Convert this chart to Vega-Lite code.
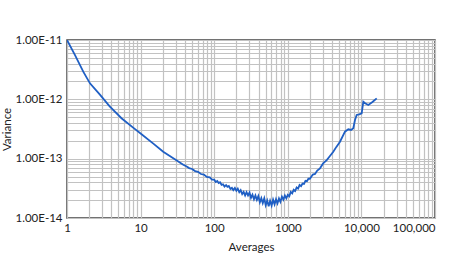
{
  "$schema": "https://vega.github.io/schema/vega-lite/v6.json",
  "width": 368,
  "height": 178,
  "autosize": "none",
  "padding": {"left": 67, "top": 40, "right": 21, "bottom": 49},
  "background": "white",
  "config": {
    "view": {"stroke": "#444444", "strokeWidth": 1.5},
    "font": "Lato",
    "axis": {
      "domain": false,
      "ticks": false,
      "grid": true,
      "gridColor": "#c2c2c2",
      "gridWidth": 1.2,
      "labelFont": "Lato",
      "labelFontSize": 11.5,
      "labelColor": "#222222",
      "titleFont": "Lato",
      "titleFontSize": 11.5,
      "titleFontWeight": "normal",
      "titleColor": "#222222",
      "labelOverlap": false
    }
  },
  "data": {
    "values": [
      {"averages": 1, "variance": 1.0e-11},
      {"averages": 1.28, "variance": 5.6e-12},
      {"averages": 1.67, "variance": 2.9e-12},
      {"averages": 2.05, "variance": 1.86e-12},
      {"averages": 2.8, "variance": 1.2e-12},
      {"averages": 3.8, "variance": 7.6e-13},
      {"averages": 5.5, "variance": 4.8e-13},
      {"averages": 8, "variance": 3.3e-13},
      {"averages": 10, "variance": 2.65e-13},
      {"averages": 14.9, "variance": 1.79e-13},
      {"averages": 20.3, "variance": 1.31e-13},
      {"averages": 27.8, "variance": 1.02e-13},
      {"averages": 38, "variance": 7.9e-14},
      {"averages": 41.7, "variance": 7.46e-14},
      {"averages": 45.7, "variance": 6.94e-14},
      {"averages": 50.1, "variance": 6.70e-14},
      {"averages": 55, "variance": 6.18e-14},
      {"averages": 60.3, "variance": 6.01e-14},
      {"averages": 66.1, "variance": 5.51e-14},
      {"averages": 72.4, "variance": 5.40e-14},
      {"averages": 79.4, "variance": 4.94e-14},
      {"averages": 87.1, "variance": 4.85e-14},
      {"averages": 93.3, "variance": 4.44e-14},
      {"averages": 100, "variance": 4.42e-14},
      {"averages": 105, "variance": 4.03e-14},
      {"averages": 110, "variance": 4.19e-14},
      {"averages": 115, "variance": 3.89e-14},
      {"averages": 120, "variance": 4.01e-14},
      {"averages": 126, "variance": 3.61e-14},
      {"averages": 132, "variance": 3.70e-14},
      {"averages": 138, "variance": 3.39e-14},
      {"averages": 145, "variance": 3.59e-14},
      {"averages": 151, "variance": 3.35e-14},
      {"averages": 158, "variance": 3.47e-14},
      {"averages": 166, "variance": 3.10e-14},
      {"averages": 174, "variance": 3.24e-14},
      {"averages": 182, "variance": 2.95e-14},
      {"averages": 191, "variance": 3.20e-14},
      {"averages": 200, "variance": 2.88e-14},
      {"averages": 209, "variance": 3.13e-14},
      {"averages": 219, "variance": 2.72e-14},
      {"averages": 229, "variance": 2.95e-14},
      {"averages": 240, "variance": 2.54e-14},
      {"averages": 251, "variance": 2.75e-14},
      {"averages": 263, "variance": 2.40e-14},
      {"averages": 275, "variance": 2.72e-14},
      {"averages": 288, "variance": 2.40e-14},
      {"averages": 302, "variance": 2.69e-14},
      {"averages": 316, "variance": 2.19e-14},
      {"averages": 331, "variance": 2.48e-14},
      {"averages": 347, "variance": 2.07e-14},
      {"averages": 363, "variance": 2.40e-14},
      {"averages": 380, "variance": 2.02e-14},
      {"averages": 398, "variance": 2.34e-14},
      {"averages": 417, "variance": 1.84e-14},
      {"averages": 437, "variance": 2.16e-14},
      {"averages": 457, "variance": 1.78e-14},
      {"averages": 479, "variance": 2.14e-14},
      {"averages": 501, "variance": 1.64e-14},
      {"averages": 525, "variance": 1.97e-14},
      {"averages": 550, "variance": 1.57e-14},
      {"averages": 575, "variance": 1.95e-14},
      {"averages": 603, "variance": 1.62e-14},
      {"averages": 631, "variance": 2.04e-14},
      {"averages": 661, "variance": 1.70e-14},
      {"averages": 692, "variance": 2.07e-14},
      {"averages": 724, "variance": 1.76e-14},
      {"averages": 759, "variance": 2.14e-14},
      {"averages": 794, "variance": 1.88e-14},
      {"averages": 832, "variance": 2.29e-14},
      {"averages": 871, "variance": 2.04e-14},
      {"averages": 912, "variance": 2.40e-14},
      {"averages": 955, "variance": 2.14e-14},
      {"averages": 1000, "variance": 2.45e-14},
      {"averages": 1047, "variance": 2.32e-14},
      {"averages": 1096, "variance": 2.75e-14},
      {"averages": 1148, "variance": 2.60e-14},
      {"averages": 1202, "variance": 2.99e-14},
      {"averages": 1259, "variance": 2.85e-14},
      {"averages": 1318, "variance": 3.27e-14},
      {"averages": 1380, "variance": 3.13e-14},
      {"averages": 1445, "variance": 3.59e-14},
      {"averages": 1514, "variance": 3.43e-14},
      {"averages": 1585, "variance": 3.82e-14},
      {"averages": 1660, "variance": 3.76e-14},
      {"averages": 1738, "variance": 4.22e-14},
      {"averages": 1820, "variance": 4.17e-14},
      {"averages": 1905, "variance": 4.59e-14},
      {"averages": 1995, "variance": 4.59e-14},
      {"averages": 2188, "variance": 5.40e-14},
      {"averages": 2344, "variance": 5.53e-14},
      {"averages": 2512, "variance": 6.31e-14},
      {"averages": 2738, "variance": 6.87e-14},
      {"averages": 3020, "variance": 8.32e-14},
      {"averages": 3381, "variance": 9.48e-14},
      {"averages": 3715, "variance": 1.10e-13},
      {"averages": 4150, "variance": 1.31e-13},
      {"averages": 4571, "variance": 1.58e-13},
      {"averages": 5117, "variance": 1.93e-13},
      {"averages": 5984, "variance": 2.85e-13},
      {"averages": 6637, "variance": 3.13e-13},
      {"averages": 7244, "variance": 3.05e-13},
      {"averages": 7762, "variance": 3.25e-13},
      {"averages": 8185, "variance": 4.49e-13},
      {"averages": 8630, "variance": 5.45e-13},
      {"averages": 9333, "variance": 5.60e-13},
      {"averages": 10090, "variance": 5.82e-13},
      {"averages": 10620, "variance": 9.12e-13},
      {"averages": 11220, "variance": 8.6e-13},
      {"averages": 12420, "variance": 8.01e-13},
      {"averages": 14130, "variance": 9.0e-13},
      {"averages": 16140, "variance": 1.04e-12}
    ]
  },
  "mark": {"type": "line", "color": "#1f5fc4", "strokeWidth": 1.8, "clip": true},
  "encoding": {
    "x": {
      "field": "averages",
      "type": "quantitative",
      "title": "Averages",
      "scale": {"type": "log", "domain": [1, 100000], "nice": false},
      "axis": {
        "values": [1,2,3,4,5,6,7,8,9,10,20,30,40,50,60,70,80,90,100,200,300,400,500,600,700,800,900,1000,2000,3000,4000,5000,6000,7000,8000,9000,10000,20000,30000,40000,50000,60000,70000,80000,90000,100000],
        "labelExpr": "abs(log(datum.value)/LN10 - round(log(datum.value)/LN10)) > 0.001 ? '' : (datum.value >= 10000 ? format(datum.value, ',') : format(datum.value, 'd'))",
        "labelAlign": {"condition": {"test": "datum.value >= 100000", "value": "right"}, "value": "center"},
        "labelPadding": 4,
        "titlePadding": 8
      }
    },
    "y": {
      "field": "variance",
      "type": "quantitative",
      "title": "Variance",
      "scale": {"type": "log", "domain": [1e-14, 1e-11], "nice": false},
      "axis": {
        "values": [1e-14,2e-14,3e-14,4e-14,5e-14,6e-14,7e-14,8e-14,9e-14,1e-13,2e-13,3e-13,4e-13,5e-13,6e-13,7e-13,8e-13,9e-13,1e-12,2e-12,3e-12,4e-12,5e-12,6e-12,7e-12,8e-12,9e-12,1e-11],
        "labelExpr": "abs(log(datum.value)/LN10 - round(log(datum.value)/LN10)) > 0.001 ? '' : upper(format(datum.value, '.2e'))",
        "labelPadding": 5,
        "titlePadding": 3
      }
    }
  }
}
